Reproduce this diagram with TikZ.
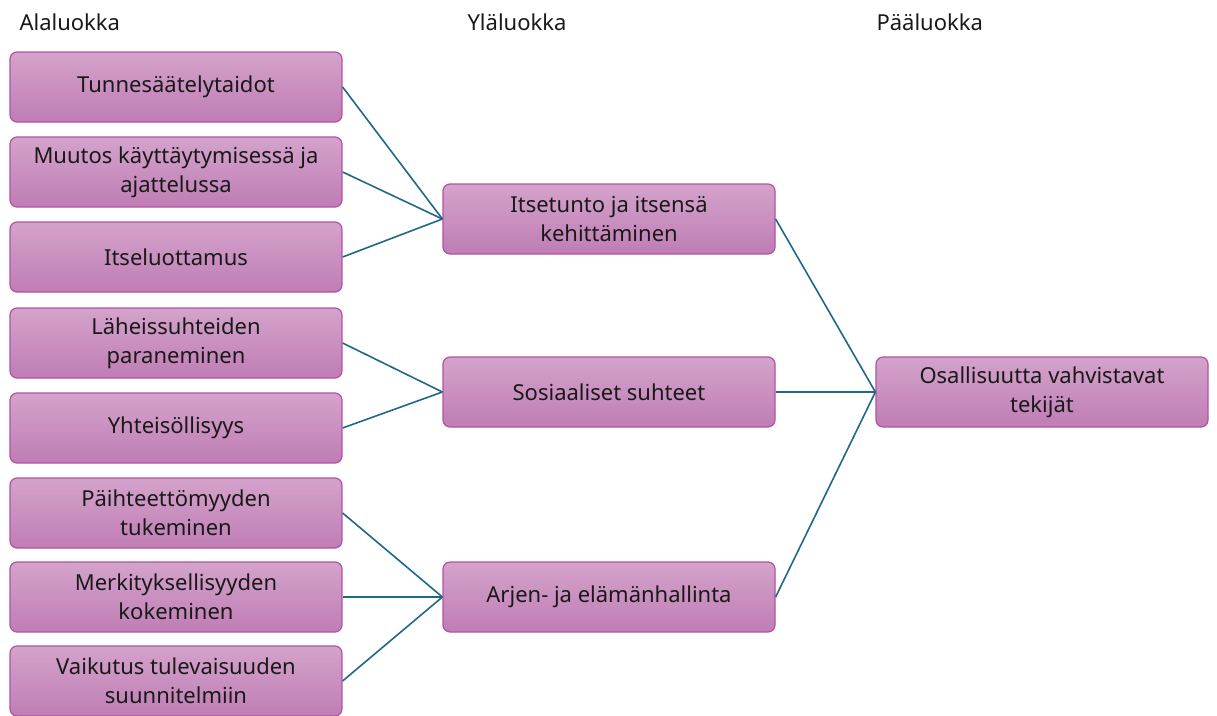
\documentclass[tikz,border=0pt]{standalone}
\usepackage{fontspec}
\setmainfont{Noto Sans}
\definecolor{boxtop}{HTML}{D4A3CB}
\definecolor{boxbottom}{HTML}{BF7DB4}
\definecolor{boxline}{HTML}{B252A3}
\definecolor{linkline}{HTML}{1F6888}
\tikzset{
    luokka/.style={draw=boxline, line width=1.2pt, rounded corners=7pt,
        top color=boxtop, bottom color=boxbottom,
        minimum width=332pt, minimum height=70pt, align=center,
        font=\fontsize{22}{29}\selectfont, text=black!90},
    otsikko/.style={anchor=west, font=\fontsize{22}{26}\selectfont, text=black!90},
    yhteys/.style={draw=linkline, line width=1.6pt}
}
\begin{document}
\begin{tikzpicture}[x=1pt,y=-1pt]
                        \useasboundingbox (0,0) rectangle (1217,715);

                        \node[otsikko] (ala) at (16,22) {Alaluokka};
                        \node[otsikko] (yla) at (464,22) {Yläluokka};
                        \node[otsikko] (paa) at (873,22) {Pääluokka};

                        \node[luokka] (tunne) at (176,87) {Tunnesäätelytaidot};
                        \node[luokka] (muutos) at (176,172) {Muutos käyttäytymisessä ja\\ajattelussa};
                        \node[luokka] (luottamus) at (176,257) {Itseluottamus};
                        \node[luokka] (laheis) at (176,343) {Läheissuhteiden\\paraneminen};
                        \node[luokka] (yhteis) at (176,428) {Yhteisöllisyys};
                        \node[luokka] (paihde) at (176,513) {Päihteettömyyden\\tukeminen};
                        \node[luokka] (merkitys) at (176,597) {Merkityksellisyyden\\kokeminen};
                        \node[luokka] (vaikutus) at (176,681) {Vaikutus tulevaisuuden\\suunnitelmiin};

                        \node[luokka] (itsetunto) at (609,219) {Itsetunto ja itsensä\\kehittäminen};
                        \node[luokka] (sosiaaliset) at (609,392) {Sosiaaliset suhteet};
                        \node[luokka] (arki) at (609,597) {Arjen- ja elämänhallinta};

                        \node[luokka] (osallisuus) at (1042,392) {Osallisuutta vahvistavat\\tekijät};

                        \draw[yhteys] (tunne.east) -- (itsetunto.west);
                        \draw[yhteys] (muutos.east) -- (itsetunto.west);
                        \draw[yhteys] (luottamus.east) -- (itsetunto.west);

                        \draw[yhteys] (laheis.east) -- (sosiaaliset.west);
                        \draw[yhteys] (yhteis.east) -- (sosiaaliset.west);

                        \draw[yhteys] (paihde.east) -- (arki.west);
                        \draw[yhteys] (merkitys.east) -- (arki.west);
                        \draw[yhteys] (vaikutus.east) -- (arki.west);

                        \draw[yhteys] (itsetunto.east) -- (osallisuus.west);
                        \draw[yhteys] (sosiaaliset.east) -- (osallisuus.west);
                        \draw[yhteys] (arki.east) -- (osallisuus.west);
                    \end{tikzpicture}
\end{document}
